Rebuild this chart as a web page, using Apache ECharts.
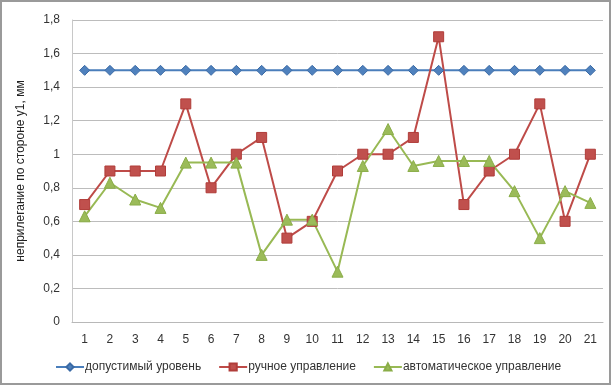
<!DOCTYPE html>
<html><head><meta charset="utf-8">
<script src="https://cdn.jsdelivr.net/npm/echarts@6/dist/echarts.min.js"></script>
<style>html,body{margin:0;padding:0;background:#fff}#c{width:613px;height:387px}</style>
</head><body><div id="c"></div>
<script>
var categories = ['1','2','3','4','5','6','7','8','9','10','11','12','13','14','15','16','17','18','19','20','21'];
var allowed = [1.5,1.5,1.5,1.5,1.5,1.5,1.5,1.5,1.5,1.5,1.5,1.5,1.5,1.5,1.5,1.5,1.5,1.5,1.5,1.5,1.5];
var manual = [0.7,0.9,0.9,0.9,1.3,0.8,1.0,1.1,0.5,0.6,0.9,1.0,1.0,1.1,1.7,0.7,0.9,1.0,1.3,0.6,1.0];
var auto = [0.63,0.83,0.73,0.68,0.95,0.95,0.95,0.4,0.61,0.61,0.3,0.93,1.15,0.93,0.96,0.96,0.96,0.78,0.5,0.78,0.71];
var seriesNames = ['допустимый уровень','ручное управление','автоматическое управление'];
var yTicks = {min:0, max:1.8, interval:0.2};

var font = 'Liberation Sans';
var chart = echarts.init(document.getElementById('c'), null, {renderer:'canvas'});
chart.setOption({
  animation:false,
  backgroundColor:'#fff',
  textStyle:{fontFamily:font},
  grid:{left:72, right:10, top:20, bottom:65},
  graphic:[{type:'rect', shape:{x:1, y:1, width:609, height:383}, style:{fill:'none', stroke:'#9a9a9a', lineWidth:2}, silent:true, z:100}],
  xAxis:{type:'category', data:categories, boundaryGap:true,
    axisLine:{lineStyle:{color:'#b8b8b8'}}, axisTick:{show:false},
    axisLabel:{color:'#333', fontSize:12, fontFamily:font, margin:12}},
  yAxis:{type:'value', min:yTicks.min, max:yTicks.max, interval:yTicks.interval,
    name:'неприлегание по стороне y1, мм', nameLocation:'middle', nameGap:45,
    nameTextStyle:{color:'#222', fontSize:12, fontFamily:font},
    axisLine:{show:true, lineStyle:{color:'#c8c8c8'}}, axisTick:{show:false},
    splitLine:{lineStyle:{color:'#bcbcbc'}},
    axisLabel:{color:'#333', fontSize:12, fontFamily:font, margin:12,
      formatter:function(v){return (Math.round(v*10)/10).toString().replace('.',',');}}},
  legend:{bottom:9, left:50, itemWidth:28, itemHeight:9, itemGap:17,
    textStyle:{color:'#333', fontSize:12, fontFamily:font, padding:[0,0,0,-4]},
    data:seriesNames},
  series:[
    {name:seriesNames[0], type:'line', data:allowed, symbol:'diamond', symbolSize:10,
      lineStyle:{color:'#4a7ebb', width:2}, itemStyle:{color:'#4f81bd', borderColor:'#3a6aa5', borderWidth:1}},
    {name:seriesNames[1], type:'line', data:manual, symbol:'rect', symbolSize:10,
      lineStyle:{color:'#be4b48', width:2}, itemStyle:{color:'#c0504d', borderColor:'#b03c39', borderWidth:1}},
    {name:seriesNames[2], type:'line', data:auto, symbol:'triangle', symbolSize:11,
      lineStyle:{color:'#98b954', width:2}, itemStyle:{color:'#9bbb59', borderColor:'#8aad48', borderWidth:1}}
  ]
});
</script></body></html>
